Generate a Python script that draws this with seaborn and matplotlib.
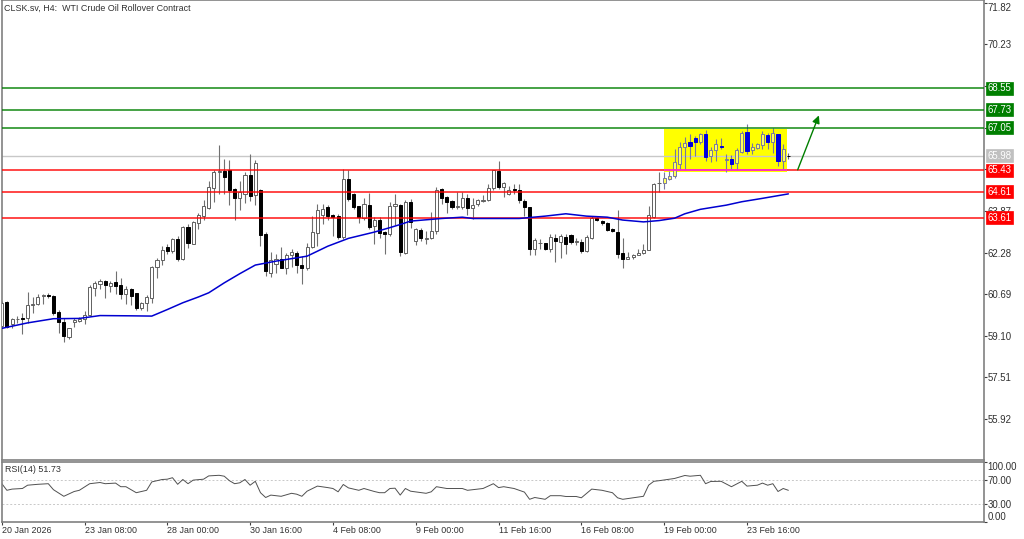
import matplotlib
matplotlib.use('Agg')
import matplotlib.pyplot as plt
import numpy as np
import pandas as pd
import seaborn as sns

# H4 candles
candle_open = [59.47, 60.38, 59.53, 59.72, 59.79, 59.79, 60.26, 60.32, 60.60, 60.64,
               60.62, 60.00, 59.62, 59.05, 59.61, 59.68, 59.72, 59.91, 60.91, 61.07,
               61.19, 61.01, 61.16, 61.02, 60.69, 60.87, 60.73, 60.16, 60.35, 60.55,
               61.72, 61.98, 62.49, 62.34, 62.81, 62.04, 63.26, 62.61, 63.40, 63.67,
               63.99, 64.73, 65.37, 65.39, 65.45, 64.69, 64.37, 64.52, 65.24, 64.46,
               64.65, 62.97, 61.51, 61.85, 62.02, 61.70, 62.18, 62.27, 61.82, 61.67,
               62.50, 63.03, 63.73, 64.01, 63.71, 63.66, 62.88, 65.07, 64.50, 64.04,
               63.61, 64.09, 63.29, 63.54, 63.06, 62.97, 64.05, 64.09, 62.27, 64.22,
               62.72, 63.14, 62.81, 62.83, 63.12, 64.69, 64.40, 64.24, 64.00, 64.00,
               64.35, 63.99, 64.12, 64.26, 64.30, 64.73, 65.39, 64.79, 64.52, 64.69,
               64.67, 64.26, 64.00, 62.40, 62.63, 62.63, 62.40, 62.85, 62.68, 62.89,
               62.96, 62.69, 62.68, 62.34, 62.84, 63.58, 63.50, 63.39, 63.16, 63.07,
               62.26, 62.05, 62.10, 62.19, 62.26, 62.38, 63.63, 64.92, 64.93, 65.10,
               65.19, 65.67, 66.33, 66.49, 66.65, 66.52, 66.79, 65.95, 66.21, 66.36,
               65.82, 65.85, 65.70, 66.13, 66.87, 66.18, 66.26, 66.38, 66.77, 66.49,
               66.79, 65.77, 65.98]
candle_high = [60.42, 60.42, 59.79, 59.85, 59.98, 60.78, 60.59, 60.70, 60.70, 60.74,
               60.65, 60.09, 59.79, 59.40, 59.79, 59.81, 60.04, 61.03, 61.21, 61.25,
               61.23, 61.21, 61.59, 61.29, 60.99, 60.91, 60.75, 60.40, 60.64, 61.76,
               62.08, 62.52, 62.59, 62.82, 62.91, 63.29, 63.38, 63.48, 63.80, 64.27,
               65.01, 65.45, 66.37, 65.84, 65.80, 64.75, 65.03, 65.37, 66.03, 65.80,
               64.69, 63.07, 62.31, 62.21, 62.49, 62.27, 62.40, 62.34, 62.14, 62.63,
               63.67, 64.12, 64.12, 64.09, 63.74, 63.74, 65.48, 65.42, 64.56, 64.05,
               64.37, 64.56, 63.63, 63.63, 63.10, 64.21, 64.50, 64.12, 64.27, 64.31,
               63.20, 63.23, 63.12, 63.84, 64.78, 64.73, 64.44, 64.28, 64.60, 64.60,
               64.50, 64.37, 64.33, 64.47, 64.88, 65.45, 65.77, 64.98, 64.82, 64.88,
               64.88, 64.31, 64.01, 62.82, 62.78, 62.65, 63.00, 63.00, 63.00, 63.00,
               63.00, 62.82, 62.78, 62.95, 63.67, 63.63, 63.54, 63.45, 63.20, 63.89,
               62.82, 62.31, 62.24, 62.40, 62.61, 64.05, 64.95, 65.37, 65.37, 65.39,
               66.22, 66.50, 66.69, 66.79, 66.73, 66.86, 66.98, 66.31, 66.63, 66.66,
               66.05, 66.00, 66.28, 66.92, 67.21, 66.46, 66.47, 66.92, 66.86, 67.05,
               66.82, 66.41, 66.07]
candle_low = [59.40, 59.40, 59.40, 59.59, 59.15, 59.59, 59.98, 60.27, 60.32, 60.55,
              59.89, 59.21, 58.87, 58.96, 59.44, 59.63, 59.56, 59.89, 60.62, 60.87,
              60.55, 60.78, 60.70, 60.49, 60.32, 60.27, 60.10, 60.07, 60.04, 60.36,
              61.31, 61.82, 62.23, 62.27, 61.95, 61.98, 62.44, 62.59, 63.19, 63.54,
              63.93, 64.21, 64.52, 64.50, 64.09, 63.54, 63.89, 64.18, 64.24, 64.09,
              62.52, 61.37, 61.34, 61.51, 61.67, 61.47, 61.72, 61.51, 61.06, 61.63,
              62.46, 62.52, 63.38, 63.54, 62.91, 62.78, 62.78, 64.24, 63.96, 63.42,
              63.54, 63.16, 62.59, 62.84, 62.24, 62.91, 63.35, 62.14, 62.21, 63.20,
              62.56, 62.72, 62.59, 62.78, 62.97, 64.12, 63.80, 63.96, 63.96, 63.93,
              63.71, 63.57, 64.05, 64.22, 64.24, 64.65, 64.69, 64.40, 64.47, 64.50,
              64.18, 63.67, 62.18, 62.18, 62.40, 62.37, 62.31, 61.93, 62.08, 62.23,
              62.61, 62.56, 62.27, 62.31, 62.78, 63.48, 63.33, 63.12, 63.06, 62.08,
              61.70, 62.02, 62.02, 62.18, 62.21, 62.37, 63.61, 64.60, 64.69, 65.05,
              65.14, 65.45, 65.45, 65.87, 65.96, 66.41, 65.77, 65.75, 65.77, 66.22,
              65.36, 65.42, 65.42, 66.09, 66.05, 66.03, 66.22, 66.22, 66.22, 66.09,
              65.58, 65.49, 65.87]
candle_close = [60.36, 59.44, 59.72, 59.75, 59.75, 60.26, 60.32, 60.59, 60.64, 60.62,
                59.98, 59.63, 59.09, 59.38, 59.70, 59.75, 59.91, 60.96, 61.10, 61.19,
                61.03, 61.12, 60.99, 60.70, 60.89, 60.62, 60.17, 60.35, 60.58, 61.72,
                61.99, 62.37, 62.34, 62.78, 62.05, 63.26, 62.65, 63.44, 63.73, 64.04,
                64.78, 65.37, 65.39, 65.16, 64.68, 64.37, 64.59, 65.26, 64.44, 65.71,
                62.95, 61.57, 61.99, 62.02, 61.70, 62.18, 62.31, 61.80, 61.67, 62.50,
                63.06, 63.89, 63.96, 63.67, 63.63, 62.88, 65.07, 64.31, 64.01, 63.63,
                64.12, 63.26, 63.54, 63.03, 62.97, 64.05, 64.12, 62.31, 64.22, 63.45,
                63.16, 62.82, 62.83, 63.12, 64.68, 64.35, 64.22, 64.01, 64.04, 64.35,
                63.99, 64.09, 64.28, 64.27, 64.74, 65.42, 64.78, 64.92, 64.68, 64.67,
                64.27, 64.01, 62.40, 62.74, 62.65, 62.42, 62.89, 62.71, 62.92, 62.61,
                62.69, 62.71, 62.34, 62.87, 63.58, 63.53, 63.42, 63.15, 63.10, 62.24,
                62.05, 62.09, 62.19, 62.28, 62.37, 63.73, 64.91, 64.95, 65.11, 65.20,
                65.72, 66.33, 66.47, 66.35, 66.50, 66.79, 65.93, 66.21, 66.41, 66.30,
                65.85, 65.68, 66.19, 66.86, 66.15, 66.33, 66.41, 66.79, 66.50, 66.83,
                65.77, 66.22, 65.96]

# moving average, sampled along the blue line
ma_bar = [0, 5, 10, 15, 19, 25, 29, 32, 35, 38, 40, 43, 46, 49, 53, 59, 63, 67, 72, 75, 77, 79,
          85, 89, 91, 100, 105, 109, 113, 117, 120, 124, 127, 130, 132, 135, 140, 143, 147, 152]
ma_value = [59.38, 59.59, 59.75, 59.76, 59.87, 59.86, 59.85, 60.10, 60.36, 60.58, 60.74, 61.12,
            61.47, 61.80, 61.95, 62.14, 62.52, 62.82, 63.06, 63.23, 63.35, 63.48, 63.58, 63.63,
            63.58, 63.58, 63.67, 63.76, 63.67, 63.63, 63.52, 63.45, 63.50, 63.59, 63.76,
            63.93, 64.09, 64.22, 64.35, 64.52]

rsi_bar = [0, 1, 2, 4, 5, 7, 9, 10, 12, 14, 15, 17, 19, 20, 22, 23, 24, 26, 28, 29, 31, 32,
           33, 34, 35, 36, 37, 39, 40, 42, 43, 44, 45, 46, 47, 48, 49, 50, 51, 52, 54, 56,
           57, 58, 59, 61, 63, 64, 65, 66, 67, 69, 70, 72, 73, 74, 75, 76, 77, 78, 79, 82,
           83, 84, 86, 89, 90, 93, 95, 96, 97, 99, 101, 102, 103, 105, 106, 108, 109, 111,
           112, 114, 116, 118, 119, 120, 122, 124, 125, 126, 127, 130, 132, 133, 135, 136,
           137, 139, 141, 143, 144, 146, 147, 148, 149, 150, 151, 152]
rsi_value = [63.3, 52, 54, 55, 60.5, 62, 63, 53, 42, 50, 52, 63, 65, 63, 64, 58, 58, 48, 52,
             66, 70, 70.5, 73, 62, 70, 63, 69, 70.5, 76, 77, 75.5, 68, 63, 64.5, 70, 60.5,
             67, 48, 40, 44, 42, 47, 45.5, 42, 50.5, 59, 56.5, 55, 49.5, 61.7, 56, 52, 55,
             50, 48, 48, 55, 55.5, 44, 55, 50.5, 47, 49.5, 58, 55, 55, 52, 55, 63, 56.5, 58,
             55, 49, 37, 40, 37, 43, 43, 41.7, 41.7, 39.5, 54, 52, 48, 39.5, 37, 39.5, 42,
             60.5, 67, 68, 71.7, 76.7, 75.5, 77, 63, 66.7, 67, 58, 67, 59, 60.5, 64, 60.5,
             63, 50, 55, 52]

red_levels = [65.43, 64.61, 63.61]
green_levels = [68.55, 67.73, 67.05]
last_price = 65.98
price_ticks = [71.82, 70.23, 68.64, 67.05, 65.46, 63.87, 62.28, 60.69, 59.10, 57.51, 55.92]
rsi_ticks = [100, 70, 30, 0]
time_bar = [0, 16, 32, 48, 64, 80, 96, 112, 128, 144]
time_labels = ['20 Jan 2026', '23 Jan 08:00', '28 Jan 00:00', '30 Jan 16:00', '4 Feb 08:00',
               '9 Feb 00:00', '11 Feb 16:00', '16 Feb 08:00', '19 Feb 00:00', '23 Feb 16:00']
box_first_bar, box_last_bar = 128, 151.8
box_low, box_high = 65.36, 67.00
arrow_from = (153.8, 65.44)
arrow_to = (157.9, 67.52)

W, H = 1024, 539
FRAME = '#808080'
RED = '#ff0000'
GREEN = '#007f00'
TEXT = '#303030'
FONT = 6.4
PRICE_FONT = 6.9
BODY = 0.6

sns.set_style('white')
plt.rcParams['font.family'] = ['Liberation Sans', 'DejaVu Sans']

fig = plt.figure(figsize=(W / 100, H / 100), dpi=100)
ax = fig.add_axes([1.5 / W, 1 - 460 / H, 982.5 / W, 460 / H])
ax_rsi = fig.add_axes([1.5 / W, 1 - 521.5 / H, 982.5 / W, 60 / H])

bars = np.arange(len(candle_open))
o, h, l, c = map(np.array, (candle_open, candle_high, candle_low, candle_close))
up = c >= o
in_box = (bars >= box_first_bar) & (bars <= box_last_bar)

ax.fill_between([box_first_bar, box_last_bar], box_low, box_high, color='#ffff00', lw=0, zorder=1)
ax.axhline(last_price, color='#c8c8c8', lw=1, zorder=1.5)

# on the yellow box the terminal paints black as blue and white as the box colour
ax.vlines(bars[~in_box], l[~in_box], h[~in_box], color='#707070', lw=0.8, zorder=2)
ax.vlines(bars[in_box], l[in_box], h[in_box], color='#7878a0', lw=0.8, zorder=2)
ax.bar(bars[up & ~in_box], (c - o)[up & ~in_box], bottom=o[up & ~in_box], width=BODY,
       color='white', edgecolor='#606060', lw=0.7, zorder=3)
ax.bar(bars[~up & ~in_box], (c - o)[~up & ~in_box], bottom=o[~up & ~in_box], width=BODY,
       color='black', edgecolor='black', lw=0.7, zorder=3)
ax.bar(bars[up & in_box], (c - o)[up & in_box], bottom=o[up & in_box], width=BODY,
       color='#ffff60', edgecolor='#7878a0', lw=0.7, zorder=3)
ax.bar(bars[~up & in_box], (c - o)[~up & in_box], bottom=o[~up & in_box], width=BODY,
       color='#0000e0', edgecolor='#0000e0', lw=0.7, zorder=3)

for level in red_levels:
    ax.axhline(level, color=RED, lw=1.2, alpha=0.85, zorder=4)
for level in green_levels:
    ax.axhline(level, color=GREEN, lw=1.2, alpha=0.85, zorder=4)
ax.hlines(red_levels[0], box_first_bar, box_last_bar, color='#ff30e0', lw=1.2, zorder=4.5)

ma_df = pd.DataFrame({'bar': ma_bar, 'ma': ma_value})
sns.lineplot(data=ma_df, x='bar', y='ma', ax=ax, color='#0000d0', lw=1.1, zorder=5)

ax.annotate('', xy=arrow_to, xytext=arrow_from, zorder=6,
            arrowprops=dict(arrowstyle='-|>,head_width=0.22,head_length=0.45', color=GREEN,
                            lw=1.0, shrinkA=0, shrinkB=0))

ax.set_xlim(-0.04, 189.8)
ax.set_ylim(54.35, 71.93)
ax.set_xlabel('')
ax.set_ylabel('')
ax.set_yticks(price_ticks)
ax.set_yticklabels([f'{t:.2f}' for t in price_ticks])
ax.yaxis.tick_right()
ax.tick_params(axis='y', length=2, width=0.8, color='#404040', labelsize=PRICE_FONT, pad=0.5,
               labelcolor=TEXT)
ax.tick_params(axis='x', bottom=False, labelbottom=False)
ax.get_yticklabels()[0].set_va('top')

level_boxes = [(v, GREEN) for v in green_levels] + [(last_price, '#c0c0c0')] + [(v, RED) for v in red_levels]
for level, colour in level_boxes:
    ax.text(1.0035, level, f'{level:.2f}', transform=ax.get_yaxis_transform(), color='white',
            fontsize=PRICE_FONT, va='center', ha='left', clip_on=False, zorder=10,
            bbox=dict(boxstyle='square,pad=0.16', fc=colour, ec=colour, lw=0.5))

fig.text(4 / W, 1 - 8 / H, 'CLSK.sv, H4:  WTI Crude Oil Rollover Contract', fontsize=FONT,
         color=TEXT, va='center')

rsi_df = pd.DataFrame({'bar': rsi_bar, 'rsi': rsi_value})
sns.lineplot(data=rsi_df, x='bar', y='rsi', ax=ax_rsi, color='#505050', lw=0.7)
for level in [70, 30]:
    ax_rsi.axhline(level, color='#c8c8c8', lw=0.7, ls=(0, (2, 2)), zorder=1)
ax_rsi.set_ylim(0, 100)
ax_rsi.set_xlabel('')
ax_rsi.set_ylabel('')
ax_rsi.set_yticks(rsi_ticks)
ax_rsi.set_yticklabels([f'{t:.2f}' for t in rsi_ticks])
ax_rsi.yaxis.tick_right()
ax_rsi.tick_params(axis='y', length=2, width=0.8, color='#404040', labelsize=PRICE_FONT, pad=0.5,
                   labelcolor=TEXT)
ax_rsi.get_yticklabels()[0].set_va('top')
ax_rsi.get_yticklabels()[-1].set_va('bottom')
ax_rsi.set_xticks(time_bar)
ax_rsi.set_xticklabels(time_labels, ha='left')
ax_rsi.tick_params(axis='x', length=2, width=0.8, color='#404040', labelsize=FONT, pad=1.5,
                   labelcolor=TEXT, bottom=True)
ax_rsi.set_xlim(-0.04, 189.8)
ax_rsi.text(3 / 982, 1 - 8 / 60, 'RSI(14) 51.73', transform=ax_rsi.transAxes, fontsize=FONT,
            color=TEXT, va='center')

for a in (ax, ax_rsi):
    for spine in a.spines.values():
        spine.set_visible(True)
        spine.set_color(FRAME)
        spine.set_linewidth(1.2)

fig.savefig('out.png', dpi=100)
